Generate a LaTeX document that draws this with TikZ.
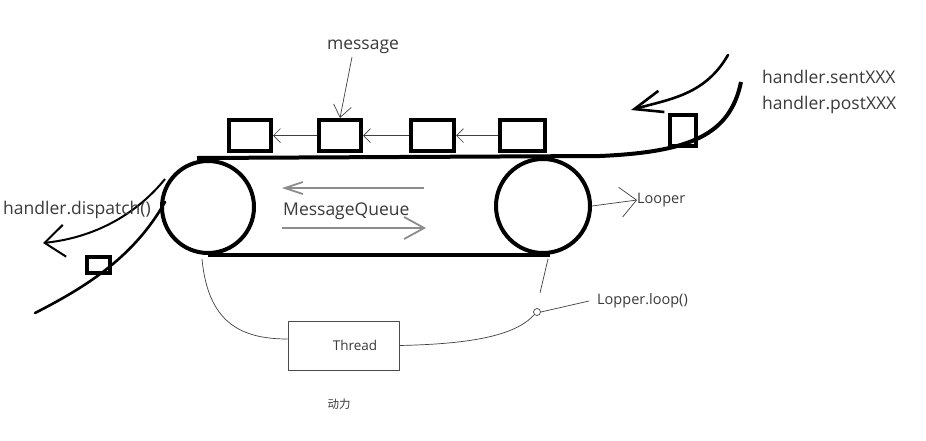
\documentclass[tikz,border=0pt]{standalone}
\usepackage{fontspec}
\setmainfont{Open Sans}
\newfontfamily\cjk{Noto Sans CJK SC}
\usetikzlibrary{arrows.meta}
\definecolor{txt}{HTML}{3A3A3A}
\begin{document}
\begin{tikzpicture}[x=1pt,y=-1pt,
  msgbox/.style={draw=black,line width=4pt,minimum width=42pt,minimum height=31pt,inner sep=0pt},
  roller/.style={draw=black,line width=4pt,circle,inner sep=0pt},
  belt/.style={line width=4pt,black},
  thickpen/.style={line width=2.6pt,black,line cap=round},
  wire/.style={line width=0.7pt,black!75},
  grayarrow/.style={line width=1.8pt,black!45},
  lbl/.style={font=\fontsize{17.5}{20}\selectfont,text=txt,inner sep=0pt},
  slbl/.style={font=\fontsize{14.5}{17}\selectfont,text=txt,inner sep=0pt},
]
\useasboundingbox (0,0) rectangle (926,440);
\fill[white] (0,0) rectangle (926,440);

% rollers
\node[roller,minimum size=92pt] (L) at (208,207) {};
\node[roller,minimum size=94pt] (R) at (543,206) {};

% belt
\coordinate (bt0) at (197,158);
\coordinate (bt1) at (600,156);
\coordinate (bt2) at (741,82);
\coordinate (bb0) at (208,255);
\coordinate (bb1) at (550,255);
\draw[belt] (bt0) -- (bt1) .. controls (690,152) and (730,135) .. (bt2);
\draw[belt] (bb0) -- (bb1);

% message boxes
\node[msgbox] (m1) at (250,135.5) {};
\node[msgbox] (m2) at (340,135.5) {};
\node[msgbox,minimum width=43pt] (m3) at (432.5,135.5) {};
\node[msgbox,minimum width=45pt] (m4) at (522.5,135.5) {};
\foreach \a/\b in {m4/m3,m3/m2,m2/m1}
  \draw[wire,-{Straight Barb[length=7pt,width=14pt]}] (\a.west) -- (\b.east);

\node[lbl] (msg) at (363,47) {message};
\draw[wire,-{Straight Barb[length=12pt,width=18pt]}] (352,57) -- (m2.north);

% incoming (right)
\node[msgbox,minimum width=26pt,minimum height=31pt] (rb) at (683,130.5) {};
\draw[thickpen,-{Straight Barb[length=28pt,width=22pt]}] (728,55) .. controls (705,95) and (670,99) .. (631,110);
\node[lbl,anchor=west] (sent) at (762,77) {handler.sentXXX};
\node[lbl,anchor=west] (post) at (762,105) {handler.postXXX};

% outgoing (left)
\coordinate (lo0) at (35,313);
\coordinate (lo1) at (165,202);
\draw[thickpen] (lo0) .. controls (90,285) and (135,255) .. (lo1);
\node[msgbox,minimum width=23pt,minimum height=16pt] (lb) at (98.5,265) {};
\draw[line width=2pt,black,-{Straight Barb[length=20pt,width=32pt]}] (165,179) .. controls (140,210) and (100,237) .. (43,243);
\node[lbl,anchor=west] (disp) at (3,210) {handler.dispatch()};

% message queue
\node[lbl,anchor=west] (mq) at (283,211) {MessageQueue};
\coordinate (q1) at (424,188);
\coordinate (q2) at (282,188);
\coordinate (q3) at (282,228);
\coordinate (q4) at (426,228);
\draw[grayarrow,-{Straight Barb[length=18pt,width=12pt]}] (q1) -- (q2);
\draw[grayarrow,-{Straight Barb[length=20pt,width=22pt]}] (q3) -- (q4);

% looper
\node[slbl,anchor=west] (lp) at (637,200) {Looper};
\draw[wire,-{Straight Barb[length=16pt,width=30pt]}] (R.east) -- (lp.west);

% thread
\node[draw=black!70,line width=0.8pt,minimum width=111pt,minimum height=49pt,inner sep=0pt,font=\fontsize{13.5}{16}\selectfont,text=txt] (T) at (343.5,345.5) {\hspace*{23pt}Thread};
\node[inner sep=0pt,text=txt,font=\cjk\fontsize{11.5}{14}\selectfont] (dl) at (339,404) {动力};
\draw[wire] (202,259) .. controls (208,322) and (240,339) .. ([yshift=6.5pt]T.west);
\node[draw=black!75,line width=0.7pt,circle,minimum size=7pt,inner sep=0pt] (sw) at (537,312) {};
\draw[wire] (T.east) .. controls (470,344) and (515,336) .. (sw.south west);
\draw[wire] (548,259) -- (540,293);
\node[slbl,anchor=west] (ll) at (597,301) {Lopper.loop()};
\draw[wire] (sw.east) -- (589,301);
\end{tikzpicture}
\end{document}
